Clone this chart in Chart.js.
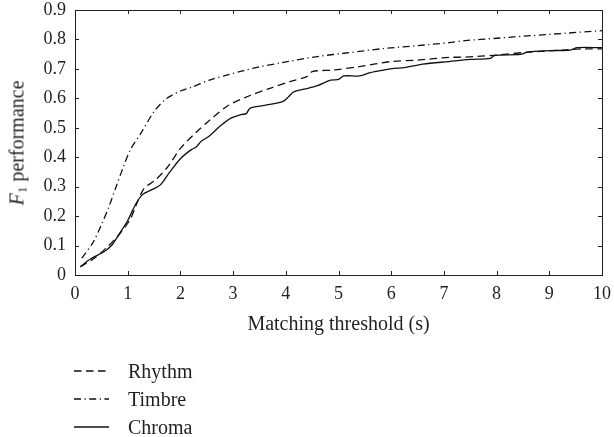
<!DOCTYPE html>
<html>
<head>
<meta charset="utf-8">
<script src="https://cdn.jsdelivr.net/npm/chart.js@4/dist/chart.umd.min.js"></script>
<style>
  html, body { margin: 0; padding: 0; background: #fff; }
  #wrap { position: relative; width: 614px; height: 437px; font-family: "Liberation Serif", "DejaVu Serif", serif; color: #231f20; }
  #c { position: absolute; left: 0; top: 0; }
  #ytitle { position: absolute; left: 17px; top: 143px; transform: translate(-50%, -50%) rotate(-90deg); white-space: nowrap; font-size: 20px; }
  #ytitle sub { font-size: 13px; vertical-align: -3px; line-height: 0; }
  #legend { position: absolute; left: 74px; top: 357px; font-size: 20px; }
  .row { display: flex; align-items: center; height: 28px; }
  .row svg { width: 35px; height: 4px; margin-right: 19px; }
</style>
</head>
<body>
<div id="wrap">
  <canvas id="c" width="614" height="437"></canvas>
  <div id="ytitle"><i>F</i><sub>1</sub> performance</div>
  <div id="legend"></div>
</div>
<script>
// ---- data ----
const seriesNames = ["Rhythm", "Timbre", "Chroma"];

const rhythmX = [0.1,0.35,0.6,0.85,1.05,1.2,1.28,1.33,1.52,1.75,2.0,2.3,2.55,2.9,3.3,3.7,4.08,4.4,4.5,4.9,5.4,6.0,6.5,7.1,7.4,8.0,8.55,9.25,9.65,10];
const rhythmY = [0.028,0.055,0.093,0.14,0.19,0.255,0.285,0.298,0.322,0.365,0.43,0.485,0.525,0.575,0.608,0.634,0.657,0.674,0.691,0.696,0.708,0.725,0.730,0.739,0.740,0.747,0.756,0.764,0.768,0.768];

const timbreX = [0.13,0.35,0.5,0.65,0.78,0.92,1.05,1.27,1.5,1.72,2.0,2.25,2.55,2.9,3.2,3.5,3.95,4.6,5.2,5.85,6.5,7.1,7.4,8.0,8.65,9.3,10];
const timbreY = [0.057,0.113,0.17,0.235,0.30,0.368,0.425,0.487,0.555,0.597,0.625,0.64,0.662,0.68,0.694,0.707,0.722,0.742,0.755,0.769,0.779,0.789,0.796,0.804,0.813,0.821,0.830];

const chromaX = [0.1,0.3,0.55,0.7,0.85,1.0,1.15,1.28,1.45,1.62,1.8,2.0,2.2,2.3,2.4,2.55,2.75,2.95,3.15,3.25,3.32,3.6,3.95,4.05,4.15,4.35,4.6,4.85,5.0,5.1,5.4,5.6,5.85,6.05,6.25,6.6,7.1,7.5,7.88,7.97,8.45,8.6,9.0,9.4,9.53,10];
const chromaY = [0.028,0.055,0.079,0.102,0.142,0.185,0.24,0.273,0.289,0.306,0.35,0.395,0.425,0.435,0.455,0.472,0.505,0.532,0.545,0.548,0.566,0.576,0.59,0.605,0.622,0.631,0.643,0.662,0.664,0.676,0.676,0.687,0.696,0.702,0.704,0.716,0.725,0.732,0.736,0.746,0.749,0.758,0.762,0.764,0.772,0.772];

const xTicks = [0,1,2,3,4,5,6,7,8,9,10];
const yTicks = [0,0.1,0.2,0.3,0.4,0.5,0.6,0.7,0.8,0.9];
const xTitle = "Matching threshold (s)";

// ---- styling ----
const ink = "#231f20";
const dashes = { Rhythm: [7.5, 4.5], Timbre: [7, 3.5, 1.2, 3.5], Chroma: [] };
const pts = (xs, ys) => xs.map((x, i) => ({ x: x, y: ys[i] }));
const dataMap = { Rhythm: pts(rhythmX, rhythmY), Timbre: pts(timbreX, timbreY), Chroma: pts(chromaX, chromaY) };

const datasets = seriesNames.map(n => ({
  label: n,
  data: dataMap[n],
  borderColor: "#111",
  borderWidth: 1.3,
  borderDash: dashes[n],
  pointRadius: 0,
  tension: 0.3,
  fill: false
}));

const framePlugin = {
  id: "frame",
  afterDatasetsDraw(chart) {
    const { ctx, chartArea: a, scales } = chart;
    ctx.save();
    ctx.strokeStyle = ink;
    ctx.lineWidth = 1;
    ctx.setLineDash([]);
    ctx.strokeRect(Math.round(a.left) + 0.5, Math.round(a.top) + 0.5, Math.round(a.right - a.left), Math.round(a.bottom - a.top));
    const L = 4;
    ctx.beginPath();
    xTicks.forEach(v => {
      const px = Math.round(scales.x.getPixelForValue(v)) + 0.5;
      ctx.moveTo(px, a.bottom); ctx.lineTo(px, a.bottom - L);
      ctx.moveTo(px, a.top); ctx.lineTo(px, a.top + L);
    });
    yTicks.forEach(v => {
      const py = Math.round(scales.y.getPixelForValue(v)) + 0.5;
      ctx.moveTo(a.left, py); ctx.lineTo(a.left + L, py);
      ctx.moveTo(a.right, py); ctx.lineTo(a.right - L, py);
    });
    ctx.stroke();
    ctx.restore();
  }
};

const tickFont = { family: "'Liberation Serif', 'DejaVu Serif', serif", size: 18 };
const titleFont = { family: "'Liberation Serif', 'DejaVu Serif', serif", size: 20 };

const chart = new Chart(document.getElementById("c"), {
  type: "line",
  data: { datasets },
  options: {
    responsive: false,
    animation: false,
    devicePixelRatio: 1,
    layout: { padding: { left: 0, top: 10, right: 12, bottom: 100 } },
    plugins: { legend: { display: false }, tooltip: { enabled: false } },
    scales: {
      x: {
        type: "linear", min: 0, max: 10,
        afterBuildTicks: s => { s.ticks = xTicks.map(v => ({ value: v })); },
        grid: { display: false, drawTicks: false },
        border: { display: false },
        ticks: { color: ink, font: tickFont, padding: 8, maxRotation: 0, autoSkip: false },
        title: { display: true, text: xTitle, color: ink, font: titleFont, padding: { top: 0, bottom: 0 } },
        afterFit: s => { s.height = 62; s.paddingLeft = 0; s.paddingRight = 0; }
      },
      y: {
        type: "linear", min: 0, max: 0.9,
        afterBuildTicks: s => { s.ticks = yTicks.map(v => ({ value: v })); },
        grid: { display: false, drawTicks: false },
        border: { display: false },
        ticks: { color: ink, font: tickFont, padding: 9, callback: v => String(+v.toFixed(1)) },
        afterFit: s => { s.width = 75; s.paddingTop = 0; s.paddingBottom = 0; }
      }
    }
  },
  plugins: [framePlugin]
});

// ---- HTML legend built from datasets ----
const leg = document.getElementById("legend");
chart.data.datasets.forEach(ds => {
  const row = document.createElement("div");
  row.className = "row";
  const dash = ds.borderDash.length ? ds.borderDash.join(" ") : "none";
  row.innerHTML = '<svg viewBox="0 0 35 4"><line x1="0" y1="2" x2="35" y2="2" stroke="#111" stroke-width="1.3" stroke-dasharray="' + dash + '"/></svg><span>' + ds.label + '</span>';
  leg.appendChild(row);
});
</script>
</body>
</html>
